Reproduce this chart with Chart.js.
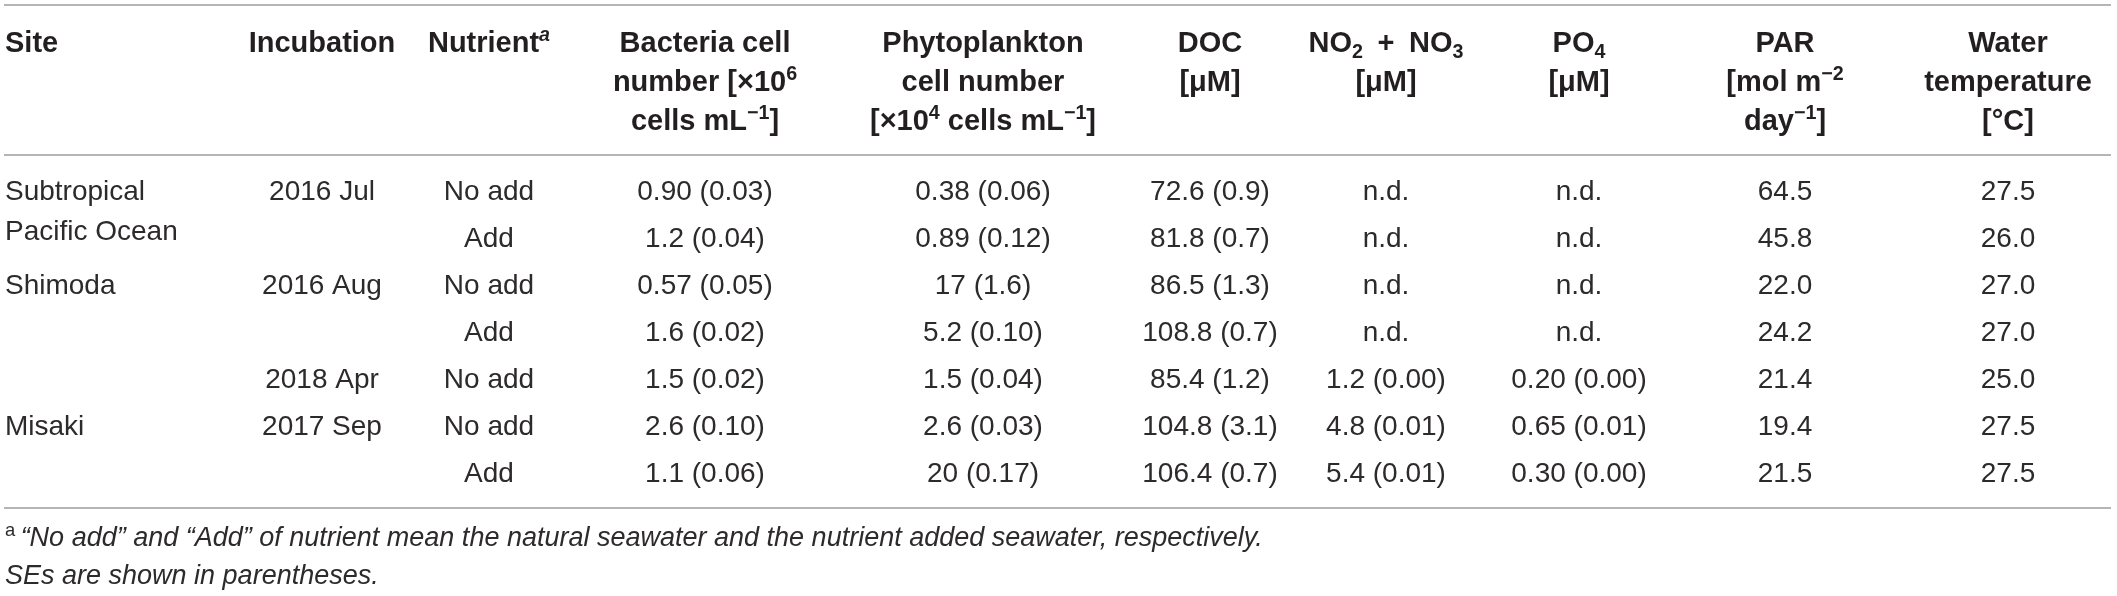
<!DOCTYPE html>
<html>
<head>
<meta charset="utf-8">
<script src="https://cdn.jsdelivr.net/npm/chart.js@4.4.1/dist/chart.umd.min.js"></script>
<style>
html,body{margin:0;padding:0;background:#fff;}
#wrap{width:2117px;height:596px;position:relative;}
</style>
</head>
<body>
<div id="wrap"><canvas id="c"></canvas></div>
<script>
// ---------- table content (text data) ----------
const headers = [
  'Site',
  'Incubation',
  'Nutrient^i{a}',
  'Bacteria cell\nnumber [\u00d710^{6}\ncells mL^{\u22121}]',
  'Phytoplankton\ncell number\n[\u00d710^{4} cells mL^{\u22121}]',
  'DOC\n[\u03bcM]',
  'NO_{2}\u2002+\u2002NO_{3}\n[\u03bcM]',
  'PO_{4}\n[\u03bcM]',
  'PAR\n[mol m^{\u22122}\nday^{\u22121}]',
  'Water\ntemperature\n[\u00b0C]'
];
const sites      = ['Subtropical\nPacific Ocean', '', 'Shimoda', '', '', 'Misaki', ''];
const incubation = ['2016 Jul', '', '2016 Aug', '', '2018 Apr', '2017 Sep', ''];
const nutrient   = ['No add', 'Add', 'No add', 'Add', 'No add', 'No add', 'Add'];
const bacteria   = ['0.90 (0.03)', '1.2 (0.04)', '0.57 (0.05)', '1.6 (0.02)', '1.5 (0.02)', '2.6 (0.10)', '1.1 (0.06)'];
const phyto      = ['0.38 (0.06)', '0.89 (0.12)', '17 (1.6)', '5.2 (0.10)', '1.5 (0.04)', '2.6 (0.03)', '20 (0.17)'];
const doc        = ['72.6 (0.9)', '81.8 (0.7)', '86.5 (1.3)', '108.8 (0.7)', '85.4 (1.2)', '104.8 (3.1)', '106.4 (0.7)'];
const no2no3     = ['n.d.', 'n.d.', 'n.d.', 'n.d.', '1.2 (0.00)', '4.8 (0.01)', '5.4 (0.01)'];
const po4        = ['n.d.', 'n.d.', 'n.d.', 'n.d.', '0.20 (0.00)', '0.65 (0.01)', '0.30 (0.00)'];
const par        = ['64.5', '45.8', '22.0', '24.2', '21.4', '19.4', '21.5'];
const waterTemp  = ['27.5', '26.0', '27.0', '27.0', '25.0', '27.5', '27.5'];
const footnotes  = [
  '^n{a}\u2009\u201cNo add\u201d and \u201cAdd\u201d of nutrient mean the natural seawater and the nutrient added seawater, respectively.',
  'SEs are shown in parentheses.'
];

// ---------- layout (positions in scale units) ----------
const W = 2117, H = 596;
const COL_X = [5, 322, 489, 705, 983, 1210, 1386, 1579, 1785, 2008];
const HEADER_BASE = 52, HEADER_LH = 39;
const ROW_BASE = 200, ROW_STEP = 47, CELL_LH = 40;
const RULE_Y = [5, 155, 508], RULE_X0 = 4, RULE_X1 = 2111;
const FOOT_X = 5, FOOT_Y = [546, 584];
const HEAD_TXT = '#231f20', BODY_TXT = '#2d2a2b', RULE = '#9d9d9d';
const FAMILY = '"Liberation Sans", Arial, Helvetica, sans-serif';
const HEAD_FONT = {size: 29, weight: 'bold', italic: false, color: HEAD_TXT};
const BODY_FONT = {size: 28, weight: 'normal', italic: false, color: BODY_TXT};
const FOOT_FONT = {size: 27, weight: 'normal', italic: true, color: BODY_TXT};

const columns = [sites, incubation, nutrient, bacteria, phyto, doc, no2no3, po4, par, waterTemp];

// ---------- rich text ----------
function parseRich(s){
  const out = []; const re = /(\^i\{|\^n\{|\^\{|_\{)([^}]*)\}/g; let last = 0, m;
  while ((m = re.exec(s))){
    if (m.index > last) out.push({t: s.slice(last, m.index), k: 'n'});
    const k = m[1] === '_{' ? 'sub' : m[1] === '^i{' ? 'supi' : m[1] === '^n{' ? 'supn' : 'sup';
    out.push({t: m[2], k});
    last = re.lastIndex;
  }
  if (last < s.length) out.push({t: s.slice(last), k: 'n'});
  return out;
}
function fontFor(spec, k){
  const size = k === 'n' ? spec.size : spec.size * 0.68;
  let it = spec.italic;
  if (k === 'supi') it = true;
  if (k === 'supn') it = false;
  return (it ? 'italic ' : '') + spec.weight + ' ' + size.toFixed(1) + 'px ' + FAMILY;
}
function drawLine(ctx, s, x, y, align, spec){
  const segs = parseRich(s); let w = 0;
  segs.forEach(g => { ctx.font = fontFor(spec, g.k); g.w = ctx.measureText(g.t).width; w += g.w; });
  let cx = align === 'center' ? x - w / 2 : x;
  ctx.fillStyle = spec.color;
  segs.forEach(g => {
    ctx.font = fontFor(spec, g.k);
    const dy = g.k.indexOf('sup') === 0 ? -spec.size * 0.38 : g.k === 'sub' ? spec.size * 0.22 : 0;
    ctx.fillText(g.t, cx, y + dy);
    cx += g.w;
  });
}

// ---------- datasets ----------
const datasets = [];
// rules as line datasets
RULE_Y.forEach(y => datasets.push({
  kind: 'rule', showLine: true, borderColor: RULE, borderWidth: 1.6, pointRadius: 0,
  data: [{x: RULE_X0, y}, {x: RULE_X1, y}]
}));
// header cells
datasets.push({
  kind: 'text', texts: headers, font: HEAD_FONT, lh: HEADER_LH, pointRadius: 0,
  aligns: headers.map((_, i) => i === 0 ? 'left' : 'center'),
  data: headers.map((_, i) => ({x: COL_X[i], y: HEADER_BASE}))
});
// body columns
columns.forEach((col, ci) => datasets.push({
  kind: 'text', texts: col, font: BODY_FONT, lh: CELL_LH, pointRadius: 0,
  aligns: col.map(() => ci === 0 ? 'left' : 'center'),
  data: col.map((_, ri) => ({x: COL_X[ci], y: ROW_BASE + ri * ROW_STEP}))
}));
// footnotes
datasets.push({
  kind: 'text', texts: footnotes, font: FOOT_FONT, lh: 0, pointRadius: 0,
  aligns: footnotes.map(() => 'left'),
  data: footnotes.map((_, i) => ({x: FOOT_X, y: FOOT_Y[i]}))
});

const tablePlugin = {
  id: 'tableText',
  afterDatasetsDraw(chart){
    const ctx = chart.ctx;
    ctx.save();
    ctx.textBaseline = 'alphabetic'; ctx.textAlign = 'left';
    chart.data.datasets.forEach((ds, di) => {
      if (ds.kind !== 'text') return;
      const meta = chart.getDatasetMeta(di);
      meta.data.forEach((el, i) => {
        const t = ds.texts[i]; if (!t) return;
        t.split('\n').forEach((line, li) => drawLine(ctx, line, el.x, el.y + li * ds.lh, ds.aligns[i], ds.font));
      });
    });
    ctx.restore();
  }
};

new Chart(document.getElementById('c'), {
  type: 'scatter',
  data: {datasets},
  options: {
    responsive: true, maintainAspectRatio: false, animation: false, events: [],
    layout: {padding: 0},
    plugins: {legend: {display: false}, tooltip: {enabled: false}},
    scales: {
      x: {type: 'linear', min: 0, max: W, display: false},
      y: {type: 'linear', min: 0, max: H, reverse: true, display: false}
    }
  },
  plugins: [tablePlugin]
});
</script>
</body>
</html>
